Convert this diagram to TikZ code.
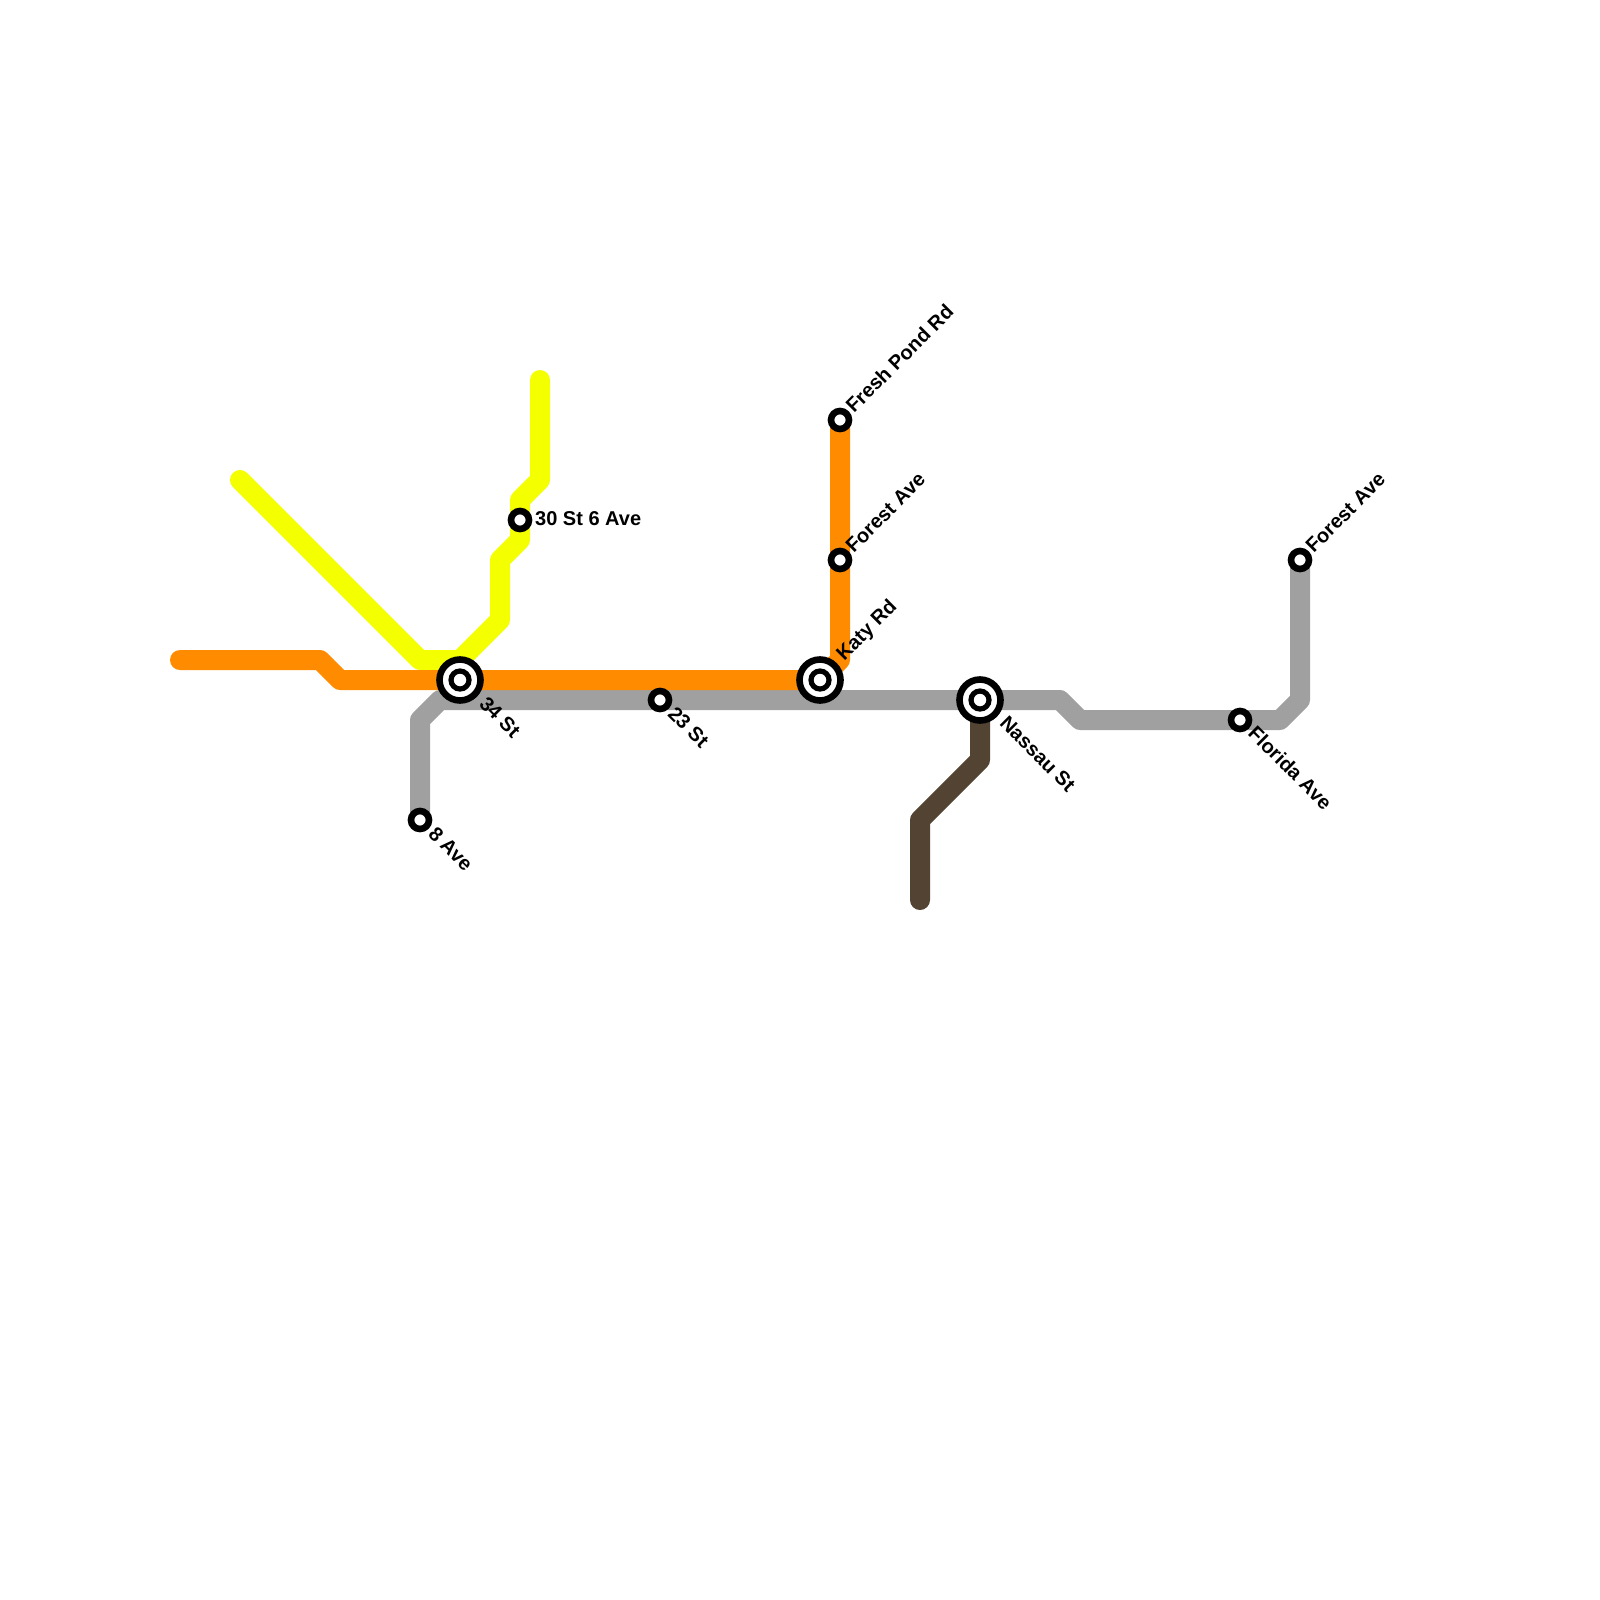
\documentclass[tikz,border=0pt]{standalone}
\usepackage{fontspec}
\setmainfont{Liberation Sans}
\definecolor{lorange}{HTML}{FF8C00}
\definecolor{lyellow}{HTML}{F4FF00}
\definecolor{lgray}{HTML}{A0A0A0}
\definecolor{lbrown}{HTML}{534333}
\tikzset{
  line/.style={line width=20pt,line cap=round,line join=round},
  smallst/.style={circle,draw=black,fill=white,line width=6.6pt,minimum size=18pt,inner sep=0pt},
  bigst/.style={circle,draw=black,fill=white,line width=6.6pt,minimum size=41pt,inner sep=0pt},
  bigdot/.style={circle,draw=black,fill=white,line width=5.2pt,minimum size=18pt,inner sep=0pt},
  lab/.style={font=\bfseries\fontsize{20pt}{22pt}\selectfont,inner sep=0pt,text=black}
}
\begin{document}
\begin{tikzpicture}[x=1pt,y=-1pt]
\useasboundingbox (0,0) rectangle (1600,1600);
\fill[white] (0,0) rectangle (1600,1600);
\coordinate (o1) at (180,660);
\coordinate (y1) at (240,480);
\coordinate (y2) at (540,380);
\coordinate (b1) at (920,900);
\coordinate (s34c) at (460,680);
\coordinate (katyc) at (820,680);
\coordinate (nassauc) at (980,700);
\coordinate (s30c) at (520,520);
\coordinate (forestc) at (840,560);
\coordinate (freshc) at (840,420);
\coordinate (ave8c) at (420,820);
\coordinate (forest2c) at (1300,560);
\draw[line,lyellow] (y1) -- (420,660) -- (460,660) -- (500,620) -- (500,560) -- (520,540) -- (s30c) -- (520,500) -- (540,480) -- (y2);
\draw[line,lgray] (ave8c) -- (420,720) -- (440,700) -- (1060,700) -- (1080,720) -- (1280,720) -- (1300,700) -- (forest2c);
\draw[line,lorange] (o1) -- (320,660) -- (340,680) -- (katyc) -- (840,660) -- (forestc) -- (freshc);
\draw[line,lbrown] (b1) -- (920,820) -- (980,760) -- (nassauc);
\node[bigst] (s34) at (s34c) {};
\node[bigst] (katy) at (katyc) {};
\node[bigst] (nassau) at (nassauc) {};
\node[bigdot] (d34) at (s34c) {};
\node[bigdot] (dkaty) at (katyc) {};
\node[bigdot] (dnassau) at (nassauc) {};
\node[smallst] (s23) at (660,700) {};
\node[smallst] (ave8) at (ave8c) {};
\node[smallst] (s30) at (s30c) {};
\node[smallst] (fresh) at (freshc) {};
\node[smallst] (forest) at (forestc) {};
\node[smallst] (forest2) at (forest2c) {};
\node[smallst] (florida) at (1240,720) {};
\node[lab,anchor=west] (t30) at (535,519) {30 St 6 Ave};
\node[lab,anchor=west,rotate=-45] (t34) at (483,700) {34 St};
\node[lab,anchor=west,rotate=-45] (t23) at (671.5,710) {23 St};
\node[lab,anchor=west,rotate=-45] (t8) at (432,830) {8 Ave};
\node[lab,anchor=west,rotate=-45] (tn) at (1003.5,719.5) {Nassau St};
\node[lab,anchor=west,rotate=-45] (tfl) at (1252,729.5) {Florida Ave};
\node[lab,anchor=west,rotate=45] (tk) at (840.5,658) {Katy Rd};
\node[lab,anchor=west,rotate=45] (tfo) at (849,549) {Forest Ave};
\node[lab,anchor=west,rotate=45] (tfr) at (849,409) {Fresh Pond Rd};
\node[lab,anchor=west,rotate=45] (tfo2) at (1309,549) {Forest Ave};
\end{tikzpicture}
\end{document}
